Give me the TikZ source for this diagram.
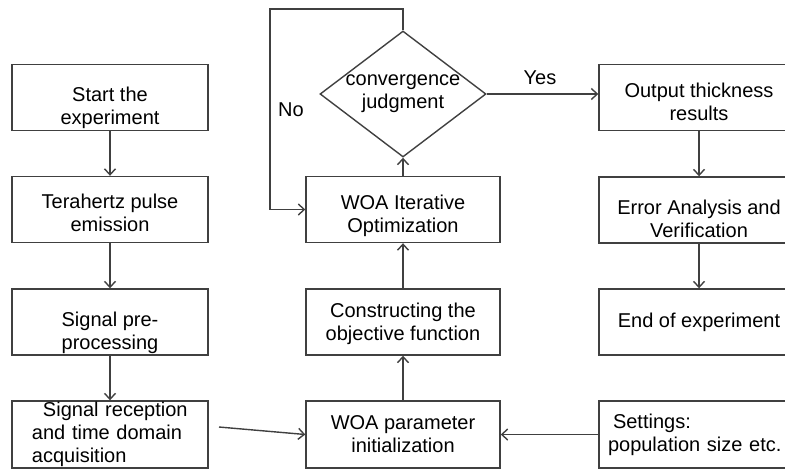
\documentclass[tikz,border=0pt]{standalone}
\usepackage{fontspec}
\setmainfont{Liberation Sans}
\usetikzlibrary{arrows.meta}
\usetikzlibrary{shapes.geometric}

\newcommand{\lowline}[1]{\rule{0pt}{#1}}

\tikzset{
    stepbox/.style={draw=black!75,line width=0.7pt,minimum height=33pt,inner sep=0pt,align=center},
    judgebox/.style={draw=black!75,line width=0.7pt,diamond,aspect=1.3,minimum width=83pt,minimum height=63pt,inner sep=0pt,align=center},
    flow/.style={draw=black!75,line width=0.7pt,arrows={-Straight Barb[length=3pt,width=5.5pt]}}
}

\begin{document}
\begin{tikzpicture}[x=0.5pt,y=-0.5pt,font=\fontsize{10}{11.5}\selectfont]
                \useasboundingbox (0,0) rectangle (785,471);

                % left column
                \node[stepbox,minimum width=98pt] (start) at (110,97.5) {\lowline{18pt}Start the\\experiment};
                \node[stepbox,minimum width=98pt] (thz) at (110,209.5) {\lowline{11pt}Terahertz pulse\\emission};
                \node[stepbox,minimum width=98pt] (pre) at (110,322) {\lowline{18.5pt}Signal pre-\\processing};
                \node[stepbox,minimum width=98pt,minimum height=33.5pt,text width=78pt,align=left] (rec) at (110,434.5) {\hspace*{5.5pt}Signal reception\\and time domain\\acquisition};

                % middle column
                \node[judgebox] (conv) at (403,94) {convergence\\judgment};
                \node[stepbox,minimum width=97pt] (woa) at (403,209.5) {\lowline{13.5pt}WOA Iterative\\Optimization};
                \node[stepbox,minimum width=97pt] (obj) at (403,322) {\lowline{9.5pt}Constructing the\\objective function};
                \node[stepbox,minimum width=97pt,minimum height=33.5pt] (init) at (403,434.5) {WOA parameter\\initialization};

                % right column
                \node[stepbox,minimum width=100pt] (out) at (699,97.5) {\lowline{11.5pt}Output thickness\\results};
                \node[stepbox,minimum width=100pt] (err) at (699,210) {\lowline{16.5pt}Error Analysis and\\Verification};
                \node[stepbox,minimum width=100pt] (fin) at (699,322) {End of experiment};
                \node[stepbox,minimum width=100pt,minimum height=33.5pt,text width=91pt,align=left] (set) at (699,434.5) {\hspace*{2.5pt}Settings:\\population size etc.};

                \node (no) at (291,110) {No};
                \node (yes) at (540,78) {Yes};

                \coordinate (loop) at (270,9);
                \coordinate (recout) at (219,427);

                \draw[flow] (start) -- (thz);
                \draw[flow] (thz) -- (pre);
                \draw[flow] (pre) -- (rec);
                \draw[flow] (recout) -- (init.west);
                \draw[flow] (init) -- (obj);
                \draw[flow] (obj) -- (woa);
                \draw[flow] (woa) -- (conv);
                \draw[flow] (conv.north) |- (loop) |- (woa.west);
                \draw[flow] (conv.east) -- (out.west |- conv.east);
                \draw[flow] (out) -- (err);
                \draw[flow] (err) -- (fin);
                \draw[flow] (set) -- (init);
            \end{tikzpicture}
\end{document}
